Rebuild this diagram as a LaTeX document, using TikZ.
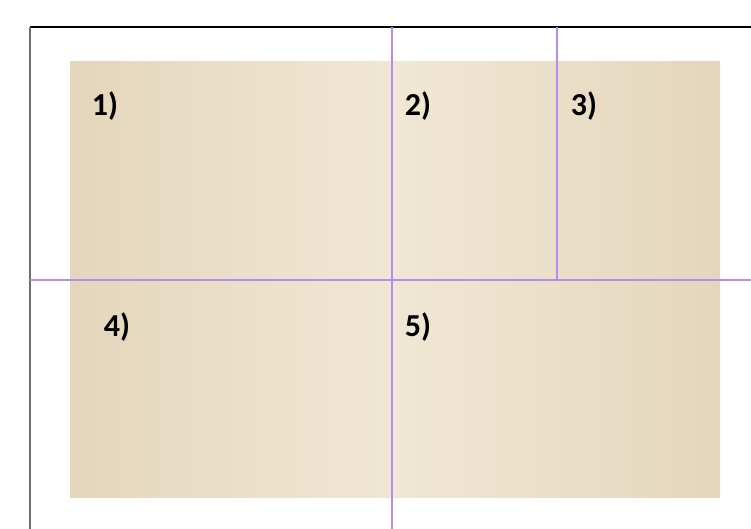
\documentclass[tikz,border=0pt]{standalone}
\usepackage{fontspec}
\setmainfont{Carlito}
\usepackage{xcolor}
\usepackage{tikz}
\usetikzlibrary{positioning}
\definecolor{paperbeige}{RGB}{240, 231, 212}
\definecolor{paperedge}{RGB}{228, 214, 188}
\definecolor{gridpurple}{RGB}{184, 140, 238}
\definecolor{framegray}{RGB}{110, 110, 110}

\begin{document}
\begin{tikzpicture}[x=1pt, y=-1pt,
    paper/.style={left color=paperedge, right color=paperedge, middle color=paperbeige},
    cut/.style={draw=gridpurple, line width=2.4pt},
    tag/.style={font=\fontsize{32}{32}\selectfont\bfseries, text=black, inner sep=0pt}
]
    \useasboundingbox (0,0) rectangle (751,529);

    % frame
    \draw[black, line width=1.5pt] (30,27) -- (751,27);
    \draw[framegray, line width=1.5pt] (30,27) -- (30,529);

    % background sheet
    \shade[paper] (70,62) rectangle (720,497);

    % split lines
    \draw[cut] (30,280) -- (751,280);
    \draw[cut] (392,27) -- (392,529);
    \draw[cut] (557,27) -- (557,280);

    \node[tag] (one) at (105,106) {1)};
    \node[tag] (two) at (418,106) {2)};
    \node[tag] (three) at (584,106) {3)};
    \node[tag] (four) at (117,327) {4)};
    \node[tag] (five) at (418,327) {5)};
\end{tikzpicture}
\end{document}
